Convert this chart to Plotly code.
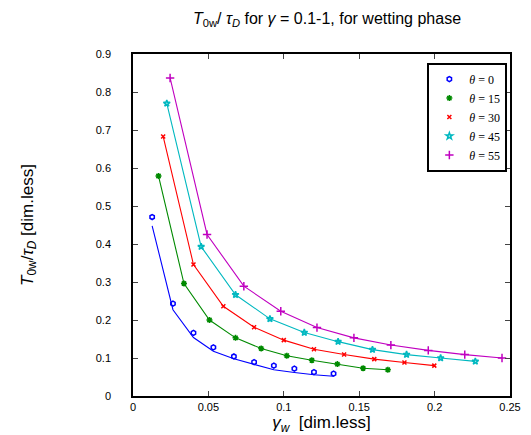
import plotly.graph_objects as go

# measured points (markers) and model curves (lines), one pair per contact angle
thetas = ["0", "15", "30", "45", "55"]

x_0 = [0.0127, 0.0265, 0.0401, 0.0533, 0.0669, 0.0803, 0.0934, 0.107, 0.120, 0.133]
y_0 = [0.471, 0.243, 0.166, 0.128, 0.104, 0.089, 0.080, 0.072, 0.063, 0.059]
fit_0 = [0.448, 0.227, 0.154, 0.118, 0.098, 0.083, 0.069, 0.062, 0.056, 0.052]

x_15 = [0.0169, 0.0338, 0.0507, 0.068, 0.085, 0.102, 0.1186, 0.1355, 0.1526, 0.169]
y_15 = [0.579, 0.296, 0.200, 0.153, 0.125, 0.106, 0.094, 0.084, 0.073, 0.069]

x_30 = [0.020, 0.0401, 0.0599, 0.0803, 0.100, 0.120, 0.140, 0.160, 0.180, 0.1998]
y_30 = [0.683, 0.346, 0.236, 0.181, 0.147, 0.123, 0.109, 0.097, 0.088, 0.080]

x_45 = [0.0224, 0.0452, 0.068, 0.0908, 0.1136, 0.136, 0.1588, 0.1814, 0.204, 0.227]
y_45 = [0.770, 0.393, 0.2665, 0.203, 0.167, 0.143, 0.122, 0.109, 0.100, 0.091]

x_55 = [0.0246, 0.0491, 0.0735, 0.098, 0.122, 0.1465, 0.171, 0.1958, 0.220, 0.2447]
y_55 = [0.837, 0.425, 0.289, 0.223, 0.180, 0.153, 0.134, 0.120, 0.109, 0.100]

xs = [x_0, x_15, x_30, x_45, x_55]
ys = [y_0, y_15, y_30, y_45, y_55]
fits = [fit_0, y_15, y_30, y_45, y_55]

colors = ["#0000ff", "#008a00", "#ff0000", "#00b8c0", "#c000c0"]
symbols = ["hexagon-open", "asterisk-open", "x-thin-open", "star-open", "cross-thin-open"]
sizes = [5, 5, 4, 5, 6]

fig = go.Figure()
for th, x, y, f, c, s, sz in zip(thetas, xs, ys, fits, colors, symbols, sizes):
    fig.add_trace(go.Scatter(x=x, y=f, mode="lines", line=dict(color=c, width=1.1),
                             showlegend=False, hoverinfo="skip"))
    fig.add_trace(go.Scatter(
        x=x, y=y, mode="markers", name="<i>θ</i> = " + th,
        marker=dict(symbol=s, size=sz, color=c, line=dict(color=c, width=1.5)),
    ))

# page body has an 8px margin, so the figure is a little smaller than the window
fig.update_layout(
    width=523, height=427,
    margin=dict(l=125, r=10, t=46, b=36),
    plot_bgcolor="white", paper_bgcolor="white",
    font=dict(family="Liberation Sans, Arial, sans-serif", color="black", size=11),
    title=dict(text="<i>T</i><sub>0w</sub>/ <i>τ<sub>D</sub></i> for <i>γ</i> = 0.1-1, for wetting phase",
               x=0.61, xanchor="center", y=0.976, yanchor="middle", font=dict(size=16)),
    showlegend=True,
    legend=dict(x=0.993, y=0.975, xanchor="right", yanchor="top",
                bordercolor="black", borderwidth=2, bgcolor="white",
                font=dict(family="Liberation Serif, serif", size=12),
                itemwidth=30, tracegroupgap=0),
    xaxis=dict(range=[0, 0.25], tickvals=[0, 0.05, 0.1, 0.15, 0.2, 0.25],
               ticktext=["0", "0.05", "0.1", "0.15", "0.2", "0.25"],
               ticks="inside", ticklen=5, mirror="ticks", showline=True, linecolor="black",
               linewidth=1.5, showgrid=False, zeroline=False, ticklabelstandoff=0,
               title=dict(text="<i>γ<sub>w</sub></i>  [dim.less]", font=dict(size=17), standoff=0)),
    yaxis=dict(range=[0, 0.9], tickvals=[0, 0.1, 0.2, 0.3, 0.4, 0.5, 0.6, 0.7, 0.8, 0.9],
               ticktext=["0", "0.1", "0.2", "0.3", "0.4", "0.5", "0.6", "0.7", "0.8", "0.9"],
               ticks="inside", ticklen=5, mirror="ticks", showline=True, linecolor="black",
               linewidth=1.5, showgrid=False, zeroline=False, ticklabelstandoff=18,
               title=dict(text="<i>T</i><sub>0w</sub>/<i>τ<sub>D</sub></i> [dim.less]",
                          font=dict(size=17), standoff=58)),
)

fig.write_html("out.html")
